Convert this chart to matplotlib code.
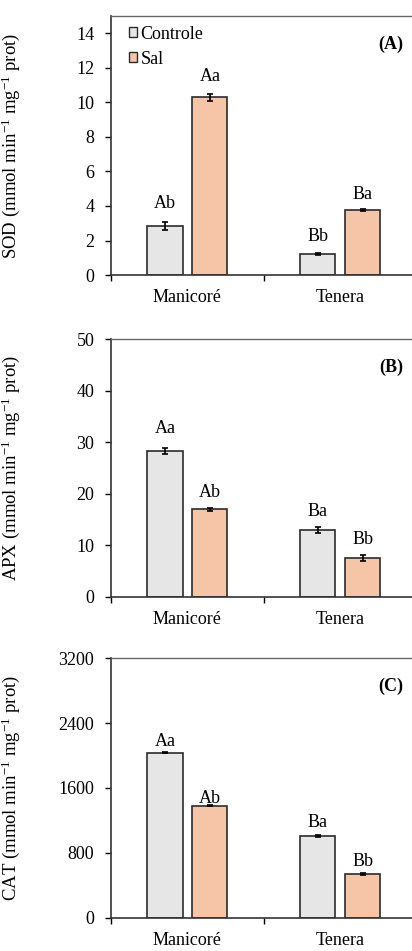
import matplotlib
matplotlib.use("Agg")
import matplotlib.pyplot as plt
from matplotlib.patches import Patch
import numpy as np

plt.rcParams['font.family'] = ['Liberation Serif', 'DejaVu Serif']
plt.rcParams['mathtext.fontset'] = 'custom'
plt.rcParams['mathtext.rm'] = 'Liberation Serif'
plt.rcParams['mathtext.it'] = 'Liberation Serif:italic'

categories = ["Manicoré", "Tenera"]
series = ["Controle", "Sal"]

sod_controle = [2.85, 1.2]
sod_sal = [10.3, 3.75]
sod_controle_err = [0.25, 0.05]
sod_sal_err = [0.2, 0.05]
sod_letters_controle = ["Ab", "Bb"]
sod_letters_sal = ["Aa", "Ba"]

apx_controle = [28.2, 13.0]
apx_sal = [17.0, 7.5]
apx_controle_err = [0.6, 0.6]
apx_sal_err = [0.3, 0.6]
apx_letters_controle = ["Aa", "Ba"]
apx_letters_sal = ["Ab", "Bb"]

cat_controle = [2036, 1005]
cat_sal = [1382, 543]
cat_controle_err = [10, 10]
cat_sal_err = [10, 10]
cat_letters_controle = ["Aa", "Ba"]
cat_letters_sal = ["Ab", "Bb"]

panels = [
    dict(c=sod_controle, s=sod_sal, ce=sod_controle_err, se=sod_sal_err,
         lc=sod_letters_controle, ls=sod_letters_sal,
         ylab="SOD (mmol min$^{-1}$ mg$^{-1}$ prot)", tag="(A)",
         ylim=(0, 15), ticks=np.arange(0, 15, 2),
         offc=[13, 12.5], offs=[12.3, 10.5], pos=[0.2694, 0.7108, 0.742, 0.2723], legend=True),
    dict(c=apx_controle, s=apx_sal, ce=apx_controle_err, se=apx_sal_err,
         lc=apx_letters_controle, ls=apx_letters_sal,
         ylab="APX (mmol min$^{-1}$ mg$^{-1}$ prot)", tag="(B)",
         ylim=(0, 50), ticks=np.arange(0, 51, 10),
         offc=[14, 10.8], offs=[10.7, 10.8], pos=[0.2694, 0.3726, 0.742, 0.2709], legend=False),
    dict(c=cat_controle, s=cat_sal, ce=cat_controle_err, se=cat_sal_err,
         lc=cat_letters_controle, ls=cat_letters_sal,
         ylab="CAT (mmol min$^{-1}$ mg$^{-1}$ prot)", tag="(C)",
         ylim=(0, 3200), ticks=np.arange(0, 3201, 800),
         offc=[7.5, 9.6], offs=[4.5, 8], pos=[0.2694, 0.0350, 0.742, 0.2728], legend=False),
]

col_c = "#E6E6E6"
col_s = "#F6C5A8"
edge = "#2b2b2b"
fs = 13

fig = plt.figure(figsize=(4.12, 9.51), dpi=100)
x = np.arange(len(categories))
w = 0.23
dx = 0.147

for p in panels:
    ax = fig.add_axes(p["pos"])
    ax.bar(x - dx, p["c"], w, color=col_c, edgecolor=edge, linewidth=1.2, zorder=2)
    ax.bar(x + dx, p["s"], w, color=col_s, edgecolor=edge, linewidth=1.2, zorder=2)
    ax.errorbar(x - dx, p["c"], yerr=p["ce"], fmt="none", ecolor="black",
                elinewidth=1.2, capsize=2.2, capthick=1.2, zorder=3)
    ax.errorbar(x + dx, p["s"], yerr=p["se"], fmt="none", ecolor="black",
                elinewidth=1.2, capsize=2.2, capthick=1.2, zorder=3)
    for i in range(len(categories)):
        ax.annotate(p["lc"][i], (x[i] - dx, p["c"][i] + p["ce"][i]),
                    xytext=(0, p["offc"][i]), textcoords="offset points",
                    ha="center", va="center", fontsize=fs)
        ax.annotate(p["ls"][i], (x[i] + dx, p["s"][i] + p["se"][i]),
                    xytext=(0, p["offs"][i]), textcoords="offset points",
                    ha="center", va="center", fontsize=fs)
    ax.set_xlim(-0.5, 1.5)
    ax.set_ylim(*p["ylim"])
    ax.set_yticks(p["ticks"])
    ax.set_yticklabels([str(int(t)) for t in p["ticks"]], fontsize=fs)
    ax.set_xticks([-0.5, 0.5, 1.5])
    ax.set_xticklabels([])
    ax.set_xticks(x, minor=True)
    ax.set_xticklabels(categories, minor=True, fontsize=fs)
    ax.tick_params(axis="x", which="minor", length=0, pad=10)
    ax.tick_params(axis="x", which="major", length=4, width=1, direction="out")
    ax.tick_params(axis="y", length=4, width=1, direction="out", pad=8)
    for sp in ["left", "bottom", "top", "right"]:
        ax.spines[sp].set_linewidth(1.2)
        ax.spines[sp].set_color("#333333")
    ax.spines["top"].set_color("#666666")
    ax.spines["top"].set_linewidth(1.0)
    ax.set_ylabel(p["ylab"], fontsize=13.5)
    ax.yaxis.set_label_coords(-0.29, 0.5)
    ax.text(0.957, 0.89, p["tag"], transform=ax.transAxes, ha="right", va="center",
            fontsize=13, fontweight="bold")
    if p["legend"]:
        handles = [Patch(facecolor=col_c, edgecolor=edge, linewidth=1.0),
                   Patch(facecolor=col_s, edgecolor=edge, linewidth=1.0)]
        ax.legend(handles, series, loc="upper left", bbox_to_anchor=(0.022, 1.005),
                  frameon=False, fontsize=fs, handlelength=0.45, handleheight=0.45,
                  handletextpad=0.2, labelspacing=0.45, borderaxespad=0.2)

fig.savefig("out.png", dpi=100)
